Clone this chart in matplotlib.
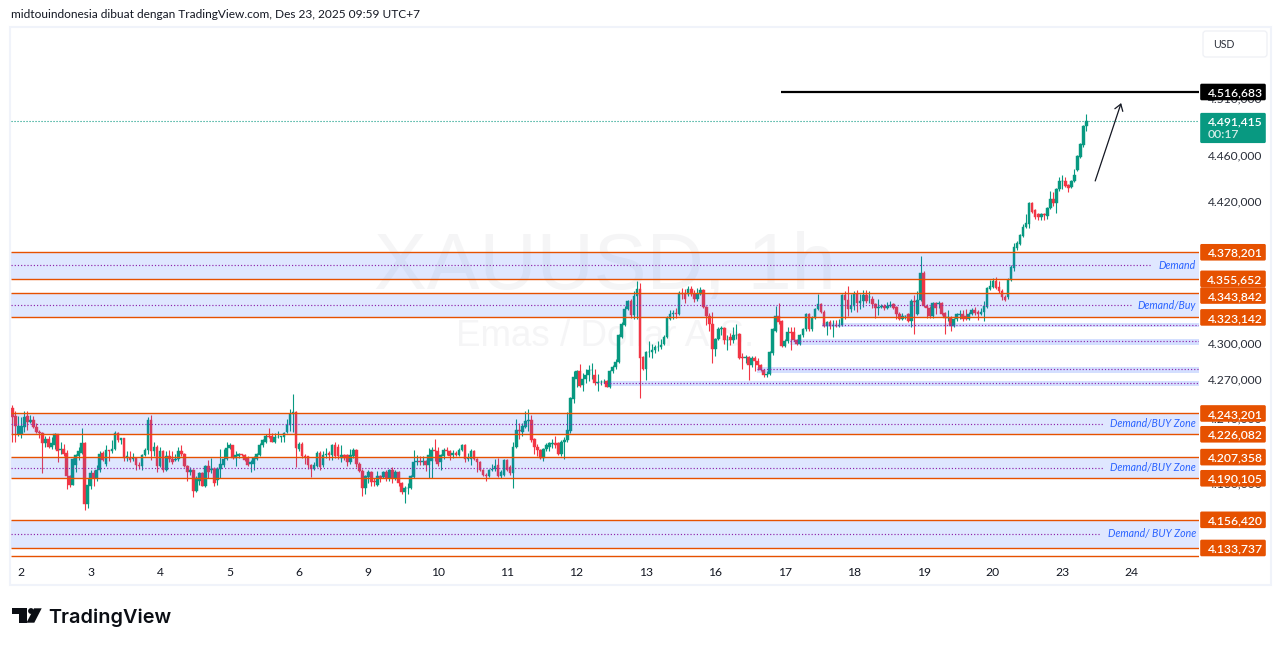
import numpy as np
import matplotlib
matplotlib.use("Agg")
import matplotlib.pyplot as plt
from matplotlib.patches import Rectangle, Polygon, Circle, FancyBboxPatch
from matplotlib.transforms import Affine2D, ScaledTranslation
from matplotlib.ticker import NullLocator

opens = [
4248,4241,4226,4226,4232,4241,4236,4238,4232,4228,
4227,4219,4222,4216,4217,4226,4213,4214,4211,4192,
4185,4201,4208,4211,4219,4169,4184,4194,4190,4197,
4211,4202,4213,4212,4214,4227,4221,4223,4207,4207,
4206,4207,4201,4200,4209,4213,4238,4212,4216,4200,
4212,4197,4208,4206,4205,4206,4212,4210,4200,4195,
4197,4180,4188,4194,4184,4200,4197,4198,4189,4198,
4201,4206,4215,4217,4207,4208,4210,4209,4207,4202,
4202,4206,4209,4217,4220,4225,4225,4220,4224,4224,
4224,4228,4234,4243,4244,4214,4218,4208,4208,4201,
4198,4200,4211,4201,4209,4211,4209,4217,4216,4207,
4209,4209,4203,4208,4213,4202,4196,4182,4191,4195,
4188,4185,4192,4191,4195,4190,4197,4190,4195,4186,
4179,4182,4182,4191,4203,4204,4203,4204,4201,4204,
4213,4212,4203,4208,4213,4212,4209,4211,4209,4213,
4217,4206,4206,4212,4206,4203,4197,4193,4192,4197,
4198,4201,4192,4193,4205,4199,4194,4216,4230,4228,
4232,4237,4238,4222,4216,4213,4207,4214,4216,4218,
4219,4219,4210,4220,4221,4229,4255,4272,4278,4267,
4272,4275,4279,4275,4268,4269,4269,4270,4265,4278,
4282,4286,4307,4317,4330,4337,4325,4341,4347,4290,
4280,4294,4294,4296,4298,4298,4301,4307,4322,4326,
4327,4326,4344,4344,4343,4347,4343,4339,4343,4346,
4332,4324,4318,4297,4305,4313,4314,4304,4307,4304,
4308,4309,4290,4289,4290,4283,4289,4287,4283,4279,
4275,4276,4293,4312,4324,4320,4299,4303,4311,4311,
4304,4301,4308,4313,4326,4313,4323,4330,4334,4328,
4316,4319,4316,4317,4316,4317,4342,4338,4330,4333,
4343,4335,4337,4342,4340,4339,4334,4331,4332,4333,
4331,4333,4334,4332,4326,4322,4324,4326,4320,4337,
4326,4338,4361,4333,4331,4324,4335,4334,4335,4327,
4323,4323,4316,4322,4325,4326,4324,4322,4326,4329,
4328,4326,4328,4332,4347,4349,4354,4349,4345,4340,
4340,4355,4365,4382,4385,4392,4400,4402,4420.5,4414,
4411,4408,4411,4409,4416,4424,4420,4432,4439,4439,
4436,4434,4439,4449,4460,4470,4487]

highs = [
4250,4245,4241,4240,4245,4245,4242,4241,4235,4230,
4228,4225,4225,4224,4227,4226,4220,4218,4213,4193,
4207,4210,4216,4231,4220,4190,4197,4197,4201,4212,
4212,4217,4213,4221,4229,4228,4223,4223,4212,4212,
4211,4207,4203,4210,4215,4240,4242,4220,4217,4216,
4213,4212,4213,4212,4210,4216,4217,4211,4201,4199,
4198,4192,4195,4195,4201,4205,4207,4199,4199,4214,
4214,4220,4219,4217,4212,4211,4210,4210,4208,4205,
4208,4211,4219,4222,4226,4231,4227,4227,4229,4225,
4228,4239,4247,4259,4245,4220,4220,4210,4208,4202,
4203,4212,4212,4212,4215,4212,4218,4220,4218,4217,
4210,4210,4214,4215,4214,4203,4198,4193,4197,4196,
4190,4196,4193,4196,4197,4198,4199,4197,4196,4187,
4184,4186,4193,4213,4209,4208,4208,4205,4215,4216,
4222,4216,4210,4215,4216,4213,4213,4212,4215,4218,
4218,4211,4214,4213,4207,4204,4198,4194,4198,4202,
4206,4207,4197,4206,4206,4201,4220,4239,4235,4235,
4245,4247,4242,4223,4218,4214,4215,4219,4220,4222,
4225,4220,4221,4224,4244,4257,4278,4279,4284,4277,
4280,4283,4285,4280,4276,4271,4272,4271,4279,4283,
4288,4309,4319,4333,4338,4339,4345,4354,4352,4291,
4295,4303,4301,4300,4303,4305,4308,4324,4329,4329,
4331,4345,4348,4347,4350,4350,4346,4348,4349,4347,
4333,4327,4328,4306,4315,4316,4315,4308,4310,4315,
4318,4310,4293,4292,4291,4291,4291,4289,4284,4280,
4278,4295,4314,4333,4335,4321,4305,4315,4315,4315,
4305,4309,4314,4327,4327,4324,4331,4343,4335,4329,
4320,4321,4321,4321,4322,4343,4345,4350,4343,4345,
4346,4343,4346,4346,4345,4341,4335,4339,4334,4334,
4336,4337,4335,4333,4328,4327,4325,4327,4339,4342,
4345,4375,4362,4334,4333,4336,4336,4337,4336,4328,
4329,4324,4323,4327,4329,4329,4330,4328,4331,4332,
4329,4331,4337,4349,4355,4356,4357,4354,4347,4342,
4356,4367,4386,4388,4394,4402,4411,4421,4421,4415,
4412,4412,4412,4417,4431,4430,4433,4443,4444,4443,
4437,4440,4450,4462,4472,4488,4497.6]

lows = [
4220,4220,4225,4223,4228,4230,4235,4231,4227,4223,
4194,4216,4215,4214,4214,4203,4210,4208,4181,4183,
4185,4195,4205,4210,4164,4166,4181,4184,4188,4195,
4204,4200,4204,4211,4213,4220,4218,4204,4204,4203,
4204,4197,4198,4197,4208,4210,4205,4208,4195,4199,
4195,4196,4203,4202,4204,4204,4208,4199,4188,4193,
4175,4179,4185,4184,4183,4190,4194,4184,4185,4190,
4199,4205,4214,4206,4200,4207,4208,4204,4200,4195,
4197,4205,4208,4216,4219,4223,4220,4219,4223,4220,
4220,4227,4229,4228,4199,4212,4207,4202,4198,4191,
4197,4199,4197,4199,4207,4205,4205,4207,4206,4203,
4205,4200,4202,4207,4199,4195,4176,4177,4186,4184,
4184,4184,4187,4190,4188,4188,4186,4189,4184,4177,
4170,4177,4181,4190,4201,4201,4201,4196,4190,4190,
4204,4200,4197,4206,4209,4205,4207,4208,4208,4212,
4203,4204,4201,4205,4195,4196,4192,4188,4191,4196,
4196,4191,4190,4192,4196,4193,4182,4215,4222,4225,
4231,4229,4220,4210,4208,4206,4204,4212,4212,4215,
4215,4209,4208,4206,4220,4227,4252,4265,4265,4262,
4268,4270,4272,4267,4262,4267,4268,4265,4264,4277,
4280,4285,4306,4316,4329,4323,4322,4322,4256,4279,
4271,4290,4289,4293,4295,4297,4300,4306,4321,4322,
4323,4325,4339,4335,4341,4341,4336,4337,4342,4331,
4317,4312,4285,4291,4304,4308,4301,4296,4300,4302,
4305,4288,4280,4285,4271,4282,4278,4279,4278,4273,
4273,4275,4292,4311,4318,4298,4298,4302,4296,4303,
4300,4300,4307,4312,4312,4312,4322,4329,4327,4315,
4308,4313,4307,4315,4315,4316,4322,4324,4328,4329,
4328,4330,4332,4335,4335,4331,4323,4325,4331,4329,
4330,4332,4330,4322,4321,4321,4322,4319,4315,4309,
4325,4337,4332,4323,4323,4323,4326,4331,4325,4309,
4320,4312,4315,4320,4322,4320,4321,4321,4325,4325,
4321,4325,4320,4331,4346,4348,4347,4344,4338,4337,
4339,4354,4362,4380,4384,4391,4399,4399,4412,4407,
4406,4406,4406,4407,4415,4418,4412,4431,4432,4434,
4430,4433,4438,4448,4459,4469,4482.5]

closes = [
4240,4233,4233,4233,4240,4236,4238,4232,4228,4227,
4219,4222,4216,4219,4226,4212,4214,4210,4192,4185,
4206,4209,4212,4219,4169,4185,4194,4190,4197,4210,
4205,4213,4212,4214,4227,4221,4223,4207,4208,4205,
4207,4201,4200,4209,4213,4238,4212,4216,4200,4212,
4197,4208,4206,4203,4206,4212,4210,4200,4195,4197,
4180,4190,4194,4184,4200,4195,4198,4186,4198,4202,
4206,4215,4217,4207,4209,4210,4209,4205,4201,4203,
4207,4210,4217,4221,4225,4224,4220,4224,4224,4224.5,
4227,4234,4243,4244,4214.5,4218,4208,4207.5,4201,4198,
4201,4211,4199,4209,4210,4209,4217,4208,4208,4209,
4207,4203,4209,4213,4202,4196,4182,4192,4195,4187,
4187,4192,4190,4195,4190,4197,4190,4195,4186,4179,
4182,4182.5,4192,4203,4204,4203,4204,4201,4209,4213,
4212,4202,4209,4213,4212,4208,4211,4209,4213,4217,
4206,4207,4212,4206,4203,4197,4193,4192,4197,4198,
4200,4192,4195,4205,4197,4194,4216,4230,4229,4233,
4237,4238,4221,4216,4213,4207,4214,4217,4219,4219,
4217,4210,4220,4221,4230,4256,4273,4278,4266,4272,
4275,4279,4279.5,4268,4269,4269,4269.5,4265,4278,4282,
4286,4308,4318,4330,4337,4325,4341,4347,4289,4280,
4294,4294.5,4296,4298,4298.5,4300,4307,4323,4326,4327,
4326,4344,4343,4339,4347,4343,4339,4343,4346,4332,
4324,4318,4297,4305,4313,4314,4304,4304.5,4304,4308,
4308.5,4289,4289,4290,4283,4289,4287,4283,4279,4275,
4276,4294,4313,4324,4319,4299,4303,4311,4310,4304,
4301,4308,4313,4326,4313,4323,4330,4334,4328,4316,
4319,4316,4317,4316,4317,4342,4338,4330,4333,4343,
4335,4337,4342,4337,4340.5,4334,4331,4332,4333,4331,
4333,4333.5,4331,4326,4322,4324,4324.5,4320,4337,4336,
4338,4361,4333,4331,4324,4335,4331,4335,4326,4323,
4323.5,4316,4322,4326,4326,4322,4322,4326,4329,4326.5,
4326,4328,4333,4348,4350,4354,4348,4345,4340,4338,
4355,4366,4383,4386.5,4393,4400,4403,4420.5,4413,4408,
4408,4411,4410,4416,4424,4420,4432,4439,4439.5,4435,
4433.5,4439,4444,4461,4471,4487,4491.4]

zone_tops = [4378.201, 4343.842, 4243.201, 4207.358, 4156.420]
zone_bottoms = [4355.652, 4323.142, 4226.082, 4190.105, 4133.737]
zone_mids = [4367.0, 4333.5, 4234.6, 4198.7, 4145.0]
zone_mid_ends = [377.8, 371.0, 361.8, 361.8, 360.5]
zone_names = ["Demand", "Demand/Buy", "Demand/BUY Zone", "Demand/BUY Zone", "Demand/ BUY Zone"]

band_tops = [4318.2, 4305.3, 4281.9, 4270.1]
band_bottoms = [4315.4, 4300.0, 4277.0, 4266.2]
band_mids = [4316.9, 4303.1, 4279.8, 4268.2]
band_starts = [268.4, 257.8, 246.9, 198.0]
band_dot_starts = [268.4, 257.8, 246.9, 193.8]

target_level = 4516.683
target_start = 254.8
last_price = 4491.415
floor_level = 4127.4
arrow_tail = (358.9, 4439.3)
arrow_head = (367.5, 4507.0)

tick_values = [4510, 4460, 4420, 4300, 4270, 4240, 4210, 4180]
tick_labels = ["4.510,000", "4.460,000", "4.420,000", "4.300,000", "4.270,000", "4.240,000", "4.210,000", "4.180,000"]
tick_lift_px = [2, 2, 2, 2, 2, -1, 2, 8]
date_labels = ["2", "3", "4", "5", "6", "9", "10", "11", "12", "13", "16", "17", "18", "19", "20", "23", "24"]
date_index = [3 + 23 * k for k in range(len(date_labels))]

orange_labels = ["4.378,201", "4.355,652", "4.343,842", "4.323,142", "4.243,201",
                 "4.226,082", "4.207,358", "4.190,105", "4.156,420", "4.133,737"]
orange_values = [4378.201, 4355.652, 4343.842, 4323.142, 4243.201,
                 4226.082, 4207.358, 4190.105, 4156.420, 4133.737]
orange_nudge = [0, 0, 2.7, 0, 0, 0, 0, 0, 0, 0]

GREEN = "#089981"
RED = "#F23645"
ORANGE = "#E65100"
BLUE = "#2962FF"
PURPLE = "#8E24AA"
INK = "#131722"
FONT = "Lato"
plt.rcParams["font.family"] = [FONT, "DejaVu Sans"]

W, H = 1281, 646
fig = plt.figure(figsize=(W / 100, H / 100), dpi=100, facecolor="white")
ax = fig.add_axes([11 / W, (H - 558) / H, (1199 - 11) / W, (558 - 28) / H])
px = Affine2D().scale(1, -1).translate(0, H)

ax.set_yscale("log")
ax.set_ylim(4125.7, 4573.2)
ax.set_xlim(-0.43, 393.3)
for s in ax.spines.values():
    s.set_visible(False)
ax.yaxis.tick_right()
ax.set_yticks(tick_values, tick_labels)
ax.yaxis.set_minor_locator(NullLocator())
ax.set_xticks(date_index, date_labels)
ax.tick_params(axis="y", length=0, pad=6.6, labelsize=8.7, labelcolor="#2A2E39")
ax.tick_params(axis="x", length=0, pad=6.5, labelsize=8.7, labelcolor=INK)
for lab, lift in zip(ax.get_yticklabels(), tick_lift_px):
    lab.set_transform(lab.get_transform() + ScaledTranslation(0, lift / 100, fig.dpi_scale_trans))

# watermark
ax.text(0.5, 0.547, "XAUUSD, 1h", transform=ax.transAxes, ha="center", va="center",
        fontsize=57, color="#F5F5F6", family="Liberation Sans", zorder=0)
ax.text(0.5005, 0.417, "Emas / Dollar A.S.", transform=ax.transAxes, ha="center", va="center",
        fontsize=26.5, color="#F5F5F6", family="Liberation Sans", zorder=0)

# candles
o, h, l, c = map(np.asarray, (opens, highs, lows, closes))
idx = np.arange(len(o))
colors = [GREEN if cc >= oo else RED for oo, cc in zip(o, c)]
ax.vlines(idx, l, h, colors=colors, linewidth=0.8, zorder=2)
ax.bar(idx, np.abs(c - o), bottom=np.minimum(o, c), width=0.88, color=colors,
       edgecolor=colors, linewidth=0.3, zorder=2.1)

# zones
DOTS = (0, (1, 1.7))
x0, x1 = ax.get_xlim()
for top, bot, mid, end, name in zip(zone_tops, zone_bottoms, zone_mids, zone_mid_ends, zone_names):
    ax.fill_between([x0, x1], bot, top, color=BLUE, alpha=0.15, linewidth=0, zorder=3)
    ax.hlines([top, bot], x0, x1, colors=ORANGE, linewidth=1.0, zorder=4)
    ax.plot([x0, end], [mid, mid], color=PURPLE, lw=0.85, ls=DOTS, zorder=4)
    ax.text(392.3, mid, name, ha="right", va="center", fontsize=7.6, style="italic",
            color=BLUE, zorder=5)
ax.hlines(floor_level, x0, x1, colors=ORANGE, linewidth=1.0, zorder=4)

for top, bot, mid, st, ds in zip(band_tops, band_bottoms, band_mids, band_starts, band_dot_starts):
    ax.fill_between([st, x1], bot, top, color=BLUE, alpha=0.2, linewidth=0, zorder=3)
    ax.plot([ds, x1], [mid, mid], color=PURPLE, lw=0.85, ls=DOTS, zorder=4)

ax.plot([x0, x1], [last_price, last_price], color=GREEN, lw=0.8, ls=DOTS, zorder=1.5)
ax.hlines(target_level, target_start, x1, colors="black", linewidth=1.6, zorder=5)
ax.annotate("", xy=arrow_head, xytext=arrow_tail,
            arrowprops=dict(arrowstyle="->,head_length=0.45,head_width=0.3", color="#131722",
                            lw=0.9, shrinkA=0, shrinkB=0), zorder=5)

# price labels, positioned from the axes' own scale
fig.canvas.draw()
def ypx(v):
    return H - ax.transData.transform((0, v))[1]

def price_box(v, label, face, nudge=0):
    yc = ypx(v) + nudge
    fig.add_artist(FancyBboxPatch((1200.5, yc - 8), 65, 16, boxstyle="round,pad=0.3,rounding_size=1.5",
                                  fc=face, ec=face, lw=0, transform=px, zorder=6))
    fig.text(1235 / W, (H - yc) / H, label, ha="center", va="center_baseline", color="white",
             fontsize=8.7, fontweight="semibold", zorder=7)

for lab, v, nudge in zip(orange_labels, orange_values, orange_nudge):
    price_box(v, lab, ORANGE, nudge)
price_box(target_level, "4.516,683", "black")

yl = ypx(last_price)
fig.add_artist(FancyBboxPatch((1200.5, yl - 7.7), 65, 29.6, boxstyle="round,pad=0.3,rounding_size=1.5",
                              fc=GREEN, ec=GREEN, lw=0, transform=px, zorder=6))
fig.text(1235 / W, (H - yl) / H, "4.491,415", ha="center", va="center_baseline", color="white",
         fontsize=8.7, fontweight="semibold", zorder=7)
fig.text(1208 / W, (H - yl - 13) / H, "00:17", ha="left", va="center_baseline", color="#CFEBE6",
         fontsize=8.7, fontweight="semibold", zorder=7)

# frame
fig.add_artist(Rectangle((10, 27), 1261, 558, fc="none", ec="#F0F3FA", lw=1.5, transform=px, zorder=1))
fig.add_artist(FancyBboxPatch((1203, 31), 64, 26, boxstyle="round,pad=0,rounding_size=3",
                              fc="white", ec="#EEF0F5", lw=0.9, transform=px, zorder=6))
fig.text(1213 / W, (H - 44.5) / H, "USD", ha="left", va="center", fontsize=7.6, color="#2A2E39", zorder=7)

fig.text(11 / W, (H - 15) / H, "midtouindonesia dibuat dengan TradingView.com, Des 23, 2025 09:59 UTC+7",
         ha="left", va="center", fontsize=8.6, color=INK)

# logo
LOGO = "#0B0E14"
fig.add_artist(Polygon([(12.3, 608.3), (26.7, 608.3), (26.7, 622.7), (19, 622.7), (19, 613.7), (12.3, 613.7)],
                       closed=True, fc=LOGO, ec="none", transform=px))
fig.add_artist(Circle((31, 611), 2.9, fc=LOGO, ec="none", transform=px))
fig.add_artist(Polygon([(34, 608.3), (41.7, 608.3), (34.3, 622.7), (26.5, 622.7)],
                       closed=True, fc=LOGO, ec="none", transform=px))
fig.text(48 / W, (H - 617.5) / H, "TradingView", ha="left", va="center", fontsize=14.3,
         fontweight="semibold", family="Inter", color=LOGO)

fig.savefig("out.png", dpi=100, facecolor="white")
